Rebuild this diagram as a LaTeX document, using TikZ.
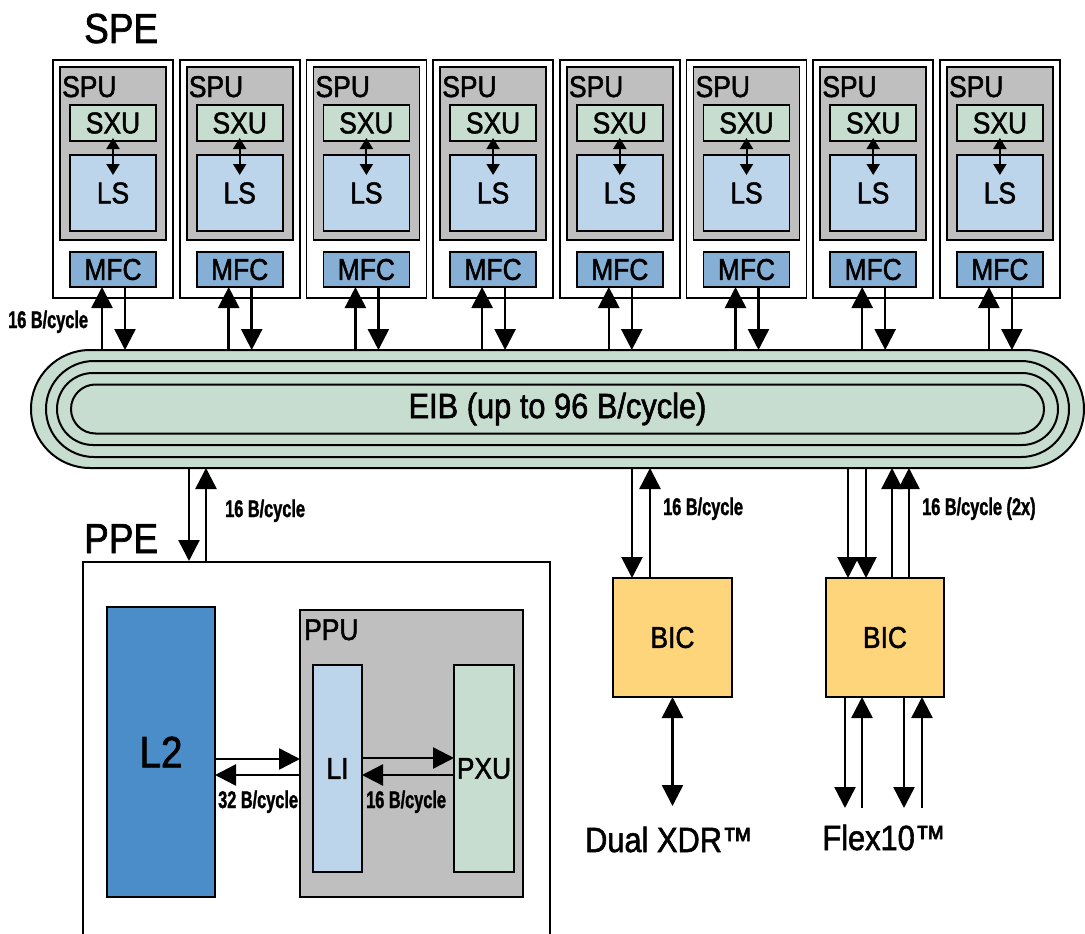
\documentclass[tikz,border=0pt]{standalone}
\usepackage{fontspec}
\setmainfont{Liberation Sans}[FakeStretch=0.88, FakeBold=1.6]
\newfontfamily\ratefamily{Liberation Sans}[FakeStretch=0.68, FakeBold=1.5]
\usetikzlibrary{arrows.meta,positioning}

\definecolor{spugray}{HTML}{BFBFBF}
\definecolor{unitgreen}{HTML}{C6DDCF}
\definecolor{lsblue}{HTML}{BDD5EB}
\definecolor{mfcblue}{HTML}{86AFD6}
\definecolor{ltwoblue}{HTML}{4A8DC8}
\definecolor{bicyellow}{HTML}{FFD57B}
\definecolor{eibgreen}{HTML}{C6DDD0}

\newcommand{\titlefont}{\fontsize{42}{42}\selectfont}
\newcommand{\boxfont}{\fontsize{30}{30}\selectfont}
\newcommand{\eibfont}{\fontsize{35}{35}\selectfont}
\newcommand{\ratefont}{\ratefamily\bfseries\fontsize{24}{24}\selectfont}

\begin{document}
\begin{tikzpicture}[x=1pt, y=-1pt,
    box/.style={draw, line width=1.6pt, inner sep=0pt, outer sep=0pt, font=\boxfont},
    spebox/.style={box, fill=white, minimum width=120pt, minimum height=238pt},
    spubox/.style={box, fill=spugray, minimum width=106pt, minimum height=173pt},
    sxubox/.style={box, fill=unitgreen, minimum width=86pt, minimum height=36pt},
    lsbox/.style={box, fill=lsblue, minimum width=86pt, minimum height=76pt},
    mfcbox/.style={box, fill=mfcblue, minimum width=86pt, minimum height=35pt},
    bicbox/.style={box, fill=bicyellow, minimum width=119pt, minimum height=119pt},
    ring/.style={draw, line width=2pt, inner sep=0pt, outer sep=0pt},
    title/.style={font=\titlefont, inner sep=0pt, anchor=base west},
    unitlbl/.style={font=\boxfont, inner sep=0pt, anchor=base west},
    rate/.style={font=\ratefont, inner sep=0pt, anchor=base west},
    arr/.style={line width=2.5pt, -{Triangle[width=21pt,length=21pt]}},
    biarr/.style={line width=2.5pt, {Triangle[width=21pt,length=21pt]}-{Triangle[width=21pt,length=21pt]}},
    smallarr/.style={line width=2pt, {Triangle[width=13pt,length=11pt]}-{Triangle[width=13pt,length=11pt]}}
]
\path[use as bounding box, clip] (0,0) rectangle (1085,934);

% element interconnect bus
\node (eib) [ring, fill=eibgreen, minimum width=1053pt, minimum height=118pt, rounded corners=59pt] at (557.5,409) {};
\node (eib2) [ring, minimum width=1023pt, minimum height=96pt, rounded corners=48pt] at (eib) {};
\node (eib3) [ring, minimum width=1001pt, minimum height=72pt, rounded corners=36pt] at (eib) {};
\node (eib4) [ring, minimum width=973pt, minimum height=49pt, rounded corners=24.5pt, font=\eibfont] at (eib) {EIB (up to 96 B/cycle)};

% SPEs
\node (spelbl) [title] at (84,43) {SPE};
\foreach \i in {0,...,7} {
    \pgfmathsetmacro{\sx}{113+126.7*\i}
    \node (spe\i) [spebox] at (\sx,179) {};
    \node (spu\i) [spubox] at (\sx,153.5) {};
    \node (spulbl\i) [unitlbl] at (\sx-51,97) {SPU};
    \node (sxu\i) [sxubox] at (\sx,123) {SXU};
    \node (ls\i) [lsbox, below=14pt of sxu\i] {LS};
    \node (mfc\i) [mfcbox, below=21pt of ls\i] {MFC};
    \draw[smallarr] ([yshift=3pt]sxu\i.south) -- ([yshift=-20pt]ls\i.north);
    \draw[arr] ([xshift=-11pt]mfc\i.south |- eib.north) -- ([xshift=-11pt]mfc\i.south);
    \draw[arr] ([xshift=12pt]mfc\i.south) -- ([xshift=12pt]mfc\i.south |- eib.north);
}
\node (rspe) [rate] at (8,328) {16 B/cycle};

% PPE
\node (ppelbl) [title] at (84,553) {PPE};
\node (ppe) [draw, line width=1.5pt, minimum width=467pt, minimum height=400pt, anchor=north west] at (82,561) {};
\draw[arr] ([xshift=107pt]ppe.north west |- eib.south) -- ([xshift=107pt]ppe.north west);
\draw[arr] ([xshift=124pt]ppe.north west) -- ([xshift=124pt]ppe.north west |- eib.south);
\node (rppe) [rate] at (225,517) {16 B/cycle};

\node (l2) [box, fill=ltwoblue, minimum width=108pt, minimum height=290pt, anchor=north west, font=\fontsize{44}{44}\selectfont] at (107,607) {L2};
\node (ppu) [box, fill=spugray, minimum width=223pt, minimum height=287pt, anchor=north west] at (300,610) {};
\node (ppulbl) [unitlbl] at (304,640) {PPU};
\node (li) [box, fill=lsblue, minimum width=49pt, minimum height=207pt, anchor=north west] at (313,665) {LI};
\node (pxu) [box, fill=unitgreen, minimum width=60pt, minimum height=207pt, anchor=north west] at (454,665) {PXU};

\draw[arr] ([yshift=-7pt]l2.east) -- ([yshift=-7pt]l2.east -| ppu.west);
\draw[arr] ([yshift=-23pt]l2.east -| ppu.west) -- ([yshift=-23pt]l2.east);
\node (rl2) [rate] at (218,808) {32 B/cycle};
\draw[arr] ([yshift=10.5pt]li.east) -- ([yshift=10.5pt]li.east -| pxu.west);
\draw[arr] ([yshift=-6.5pt]li.east -| pxu.west) -- ([yshift=-6.5pt]li.east);
\node (rli) [rate] at (366,808) {16 B/cycle};

% bus interface controllers
\node (bic1) [bicbox, anchor=north west] at (613,578) {BIC};
\node (bic2) [bicbox, minimum width=118pt, anchor=north west] at (826,578) {BIC};

\draw[arr] ([xshift=19pt]bic1.north west |- eib.south) -- ([xshift=19pt]bic1.north west);
\draw[arr] ([xshift=37pt]bic1.north west) -- ([xshift=37pt]bic1.north west |- eib.south);
\node (rbic1) [rate] at (663,515) {16 B/cycle};

\foreach \dx in {22,40} {
    \draw[arr] ([xshift=\dx pt]bic2.north west |- eib.south) -- ([xshift=\dx pt]bic2.north west);
}
\foreach \dx in {66,83} {
    \draw[arr] ([xshift=\dx pt]bic2.north west) -- ([xshift=\dx pt]bic2.north west |- eib.south);
}
\node (rbic2) [rate] at (922,515) {16 B/cycle (2x)};

% memory and I/O
\coordinate (xdrin) at (672,806);
\coordinate (flexin) at (884,808);
\draw[biarr] (bic1.south) -- (bic1.south |- xdrin);
\node (xdr) [font=\eibfont, inner sep=0pt, anchor=base] at (669,852) {Dual XDR™};

\foreach \dx in {19,78} {
    \draw[arr] ([xshift=\dx pt]bic2.south west) -- ([xshift=\dx pt]bic2.south west |- flexin);
}
\foreach \dx in {36,96} {
    \draw[arr] ([xshift=\dx pt]bic2.south west |- flexin) -- ([xshift=\dx pt]bic2.south west);
}
\node (flex) [font=\eibfont, inner sep=0pt, anchor=base] at (884,850) {Flex10™};
\end{tikzpicture}
\end{document}
